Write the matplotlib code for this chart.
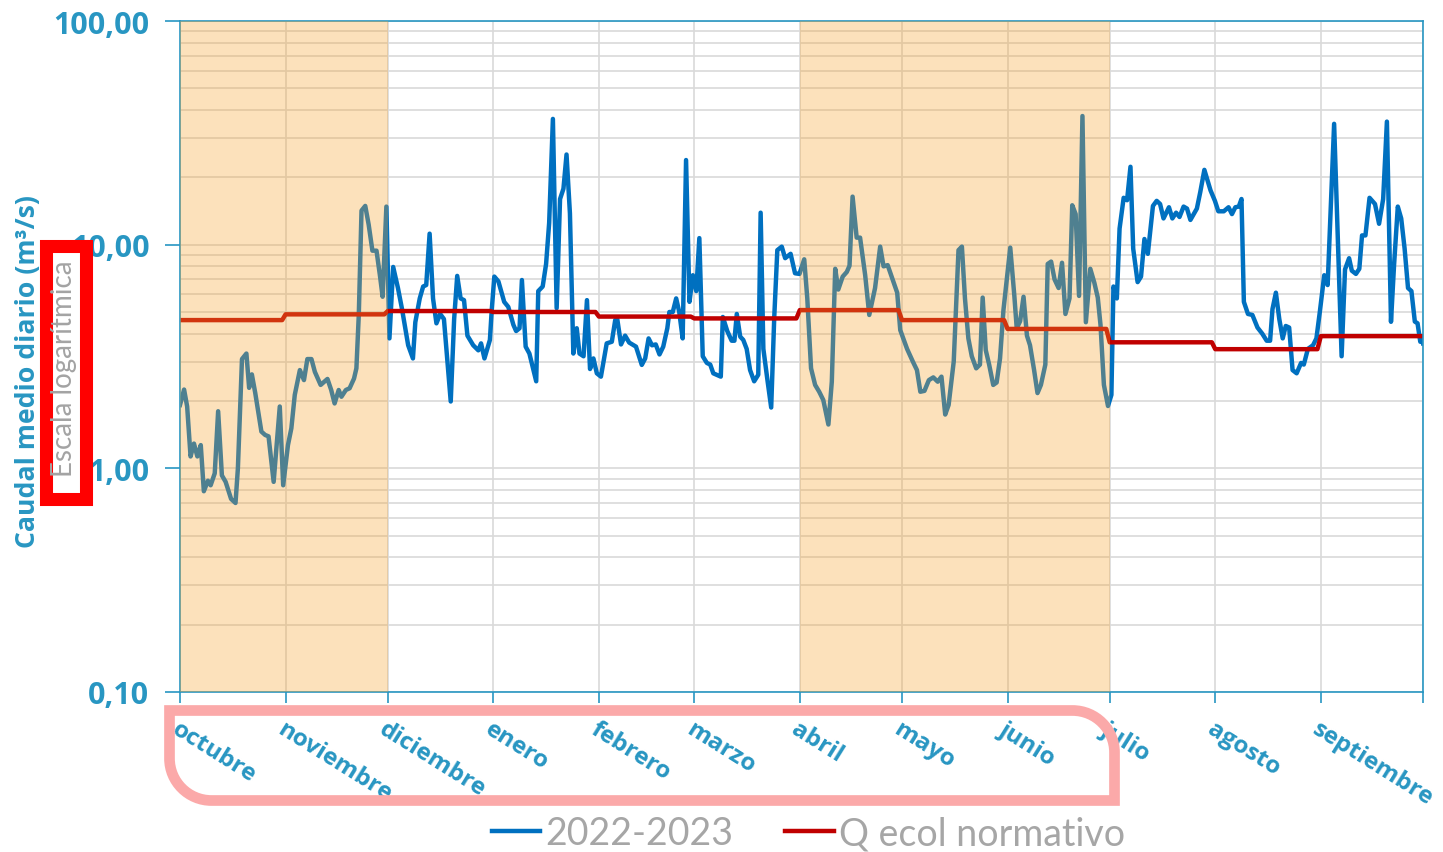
import numpy as np
import matplotlib
matplotlib.use('Agg')
import matplotlib.pyplot as plt
from matplotlib.patches import Rectangle, PathPatch
from matplotlib.path import Path
from matplotlib.transforms import Affine2D
from matplotlib.ticker import FixedLocator, NullFormatter, LogLocator

# ---------------- data ----------------
month_names = ['octubre', 'noviembre', 'diciembre', 'enero', 'febrero', 'marzo',
               'abril', 'mayo', 'junio', 'julio', 'agosto', 'septiembre']
month_days = [31, 30, 31, 31, 28, 31, 30, 31, 30, 31, 31, 30]
q_ecol = [4.60, 4.88, 5.05, 5.00, 4.77, 4.68, 5.10, 4.60, 4.20, 3.66, 3.41, 3.90]
shaded_periods = [('octubre', 'noviembre'), ('abril', 'junio')]
y_ticks = [0.1, 1, 10, 100]
y_tick_labels = ['0,10', '1,00', '10,00', '100,00']
series_labels = ['2022-2023', 'Q ecol normativo']

# daily mean flow 2022-2023 (day since 1 Oct, m3/s)
flow_day = [0, 1.2, 2.1, 3.1, 4.1, 5.1, 6.1, 7, 8.2, 9, 10.2, 11.2, 12.3, 13.4, 15, 16.3, 17,
            18.2, 19.5, 20.3, 21.1, 22.1, 23.9, 25, 26, 27.5, 29.3, 30.3, 31.7, 32.7, 33.7,
            35.2, 36.4, 37.4, 38.6, 39.6, 41.3, 43.3, 44.4, 45.4, 46.6, 47.4, 48.7, 49.8,
            51.1, 51.8, 52.5, 53.3, 54.4, 55.4, 56.5, 57.7, 58.7, 59.5, 60.6, 61.5, 62.6,
            64, 65.2, 67, 68.4, 69.1, 70.4, 71.4, 72.3, 73.3, 74.3, 75.3, 76.4, 77.5, 79.5,
            80.5, 81.4, 82.4, 83.4, 84.4, 86.1, 87.6, 88.4, 89.4, 91, 91.5, 92.3, 93.5,
            95.2, 96.4, 97.9, 98.7, 99.7, 100.4, 101.5, 102.6, 104.6, 105.2, 106.5, 107.5,
            108.4, 109.5, 110.6, 111.6, 112.6, 113.5, 114.5, 115.5, 116.5, 117.3, 118.5,
            119.5, 120.4, 121.4, 122.4, 123.6, 125.3, 126.8, 127.8, 128.4, 129.5, 130.7,
            131.9, 133.9, 135.6, 136.6, 137.6, 138.6, 139.7, 140.8, 141.9, 143.1, 143.7,
            144.7, 145.7, 146.6, 147.6, 148.6, 149.6, 150.6, 151.6, 152.5, 153.5, 154.7,
            155.7, 156.6, 158.8, 159.4, 160.7, 162, 162.8, 163.5, 164.5, 165.4, 166.4,
            167.4, 168.6, 169.8, 170.5, 171.3, 172.5, 173.6, 174.5, 175.4, 176.7, 177.7,
            179.3, 180.6, 181.9, 183.3, 184.2, 185.3, 186.5, 187.7, 188.9, 190.4, 191.4,
            192.4, 193.3, 194.6, 195.8, 196.6, 197.5, 198.7, 199.7, 201.2, 202.4, 204.1,
            205.6, 206.6, 207.8, 209.1, 210.6, 211.5, 213.5, 215.2, 216.4, 217.4, 218.6,
            219.9, 221.2, 222.5, 223.6, 224.7, 225.7, 227.2, 228.6, 229.6, 230.5, 231.5,
            232.5, 233.8, 234.9, 235.7, 236.6, 237.6, 238.8, 239.8, 240.8, 241.8, 243.8,
            245, 245.7, 246.7, 247.7, 248.7, 249.6, 250.8, 251.8, 252.8, 254.1, 254.8,
            255.8, 256.8, 258, 259, 260, 261.2, 262, 263, 264, 265, 266, 267.3, 268.5,
            269.5, 270.3, 271.3, 272.5, 273.5, 274.1, 275.1, 275.9, 277.1, 278.1, 279.1,
            279.9, 281.2, 282.2, 283.2, 284.2, 285.7, 286.8, 287.8, 288.8, 290.4, 291.4,
            292.5, 293.5, 294.7, 295.7, 296.7, 298.6, 299.6, 300.8, 302.6, 303.9, 304.9,
            306.5, 307.9, 308.9, 309.9, 310.9, 311.7, 312.4, 313.6, 314.9, 316.4, 317.8,
            319.1, 320.1, 320.8, 321.8, 322.8, 323.8, 324.7, 325.7, 326.7, 327.9, 329.2,
            330, 331.2, 332.7, 333.7, 334.7, 336, 337, 338.9, 341.1, 342.1, 343.3, 344.1,
            345.3, 346.3, 347.1, 348.1, 349.3, 350.9, 352.1, 353.3, 354.4, 355.6, 356.5,
            357.6, 358.6, 359.6, 360.6, 361.6, 362.6, 363.4, 364.2, 364.6, 365]
flow_val = [1.92, 2.25, 1.89, 1.13, 1.29, 1.13, 1.27, 0.79, 0.88, 0.84, 0.95, 1.80, 0.93, 0.87,
            0.73, 0.70, 1.0, 3.08, 3.26, 2.29, 2.63, 2.17, 1.46, 1.41, 1.39, 0.87, 1.89, 0.84,
            1.27, 1.51, 2.13, 2.75, 2.48, 3.08, 3.08, 2.70, 2.36, 2.51, 2.24, 1.95, 2.24, 2.09,
            2.24, 2.28, 2.52, 2.80, 4.85, 14.2, 14.9, 12.3, 9.4, 9.4, 7.3, 5.85, 14.8, 3.81,
            7.95, 6.4, 5.15, 3.55, 3.1, 4.5, 5.75, 6.5, 6.6, 11.2, 5.75, 4.45, 4.9, 4.65, 1.99,
            4.65, 7.25, 5.75, 5.65, 3.92, 3.55, 3.37, 3.62, 3.1, 3.75, 5.0, 7.2, 6.85, 5.55,
            5.27, 4.38, 4.11, 4.23, 6.95, 3.5, 3.26, 2.45, 6.2, 6.5, 8.2, 12.5, 36.5, 5.2,
            16.0, 17.8, 25.3, 13.8, 3.26, 4.23, 3.26, 3.17, 5.65, 2.78, 3.1, 2.66, 2.57, 3.62,
            3.68, 4.6, 4.65, 3.58, 3.92, 3.65, 3.5, 2.9, 3.1, 3.81, 3.55, 3.58, 3.23, 3.5,
            4.23, 5.0, 5.0, 5.75, 5.0, 3.81, 23.9, 5.55, 7.3, 6.2, 10.7, 3.17, 2.96, 2.91,
            2.66, 2.57, 4.75, 4.11, 3.72, 3.72, 4.9, 3.88, 3.75, 3.42, 2.75, 2.45, 2.62, 13.9,
            3.42, 2.48, 1.87, 4.75, 9.45, 9.8, 8.7, 9.1, 7.45, 7.4, 8.6, 5.75, 2.8, 2.36, 2.2,
            2.02, 1.57, 2.44, 7.8, 6.3, 7.2, 7.55, 8.05, 16.4, 10.75, 10.75, 7.3, 4.85, 6.4,
            9.8, 8.0, 8.1, 7.1, 6.1, 4.15, 3.42, 3.0, 2.75, 2.2, 2.22, 2.48, 2.55, 2.44, 2.57,
            1.74, 1.92, 3.0, 9.45, 9.8, 5.75, 3.81, 3.17, 2.8, 2.91, 5.8, 3.38, 2.91, 2.36,
            2.42, 3.1, 5.1, 9.7, 5.9, 4.23, 4.55, 5.85, 3.92, 3.55, 2.75, 2.17, 2.36, 2.91,
            8.2, 8.4, 7.0, 6.4, 8.3, 4.9, 5.75, 15.0, 13.7, 5.9, 37.6, 4.5, 7.8, 6.75, 5.8,
            4.38, 2.36, 1.9, 2.13, 6.5, 5.75, 11.8, 16.2, 15.8, 22.3, 9.6, 6.8, 7.2, 10.6,
            9.1, 14.9, 15.7, 15.2, 13.1, 14.7, 13.1, 13.9, 13.3, 14.8, 14.5, 12.9, 14.5, 17.2,
            21.6, 17.5, 15.7, 14.1, 14.1, 14.7, 13.7, 14.7, 14.8, 16.0, 5.55, 4.9, 4.85, 4.26,
            4.0, 3.72, 3.72, 5.15, 6.1, 4.65, 3.81, 4.33, 4.26, 2.75, 2.66, 2.96, 2.91, 3.42,
            3.55, 3.81, 5.0, 7.3, 6.6, 34.7, 3.17, 7.75, 8.7, 7.65, 7.4, 7.8, 11.0, 11.0, 16.2,
            15.2, 12.4, 16.0, 35.5, 4.52, 8.1, 14.8, 13.1, 9.6, 6.4, 6.2, 4.53, 4.45, 3.68,
            3.81, 3.62]

# ---------------- style ----------------
W, H = 1443, 853
TEAL = '#2896C2'
BLUE = '#0070C0'
DARKRED = '#C00000'
GRAY = '#A6A6A6'
GRID = '#D9D9D9'
SHADE = '#F7A32C'

plt.rcParams['font.family'] = ['Open Sans', 'DejaVu Sans']

fig = plt.figure(figsize=(W / 100, H / 100), dpi=100)
ax = fig.add_axes([180 / W, 1 - 693 / H, (1423 - 180) / W, (693 - 22) / H])

month_starts = np.concatenate([[0], np.cumsum(month_days)])
total_days = month_starts[-1]

# Q ecol daily step series built from monthly values
q_days = np.arange(0, total_days + 1)
q_idx = np.clip(np.searchsorted(month_starts, q_days, side='right') - 1, 0, 11)
q_vals = np.array(q_ecol)[q_idx]

l1, = ax.plot(flow_day, flow_val, color=BLUE, lw=3.2, zorder=2, solid_joinstyle='round')
l2, = ax.plot(q_days, q_vals, color=DARKRED, lw=3.2, zorder=2.5)

for a, b in shaded_periods:
    i0 = month_names.index(a)
    i1 = month_names.index(b)
    ax.axvspan(month_starts[i0], month_starts[i1 + 1], color=SHADE, alpha=0.32, lw=0, zorder=3)

ax.set_yscale('log')
ax.set_ylim(0.1, 100)
ax.set_xlim(0, total_days)
ax.yaxis.set_major_locator(FixedLocator(y_ticks))
ax.set_yticklabels(y_tick_labels)
ax.yaxis.set_minor_locator(LogLocator(base=10, subs=np.arange(2, 10)))
ax.yaxis.set_minor_formatter(NullFormatter())

ax.set_xticks(month_starts)
ax.set_xticklabels(month_names + [''])

ax.set_axisbelow(True)
ax.grid(True, axis='y', which='both', color=GRID, lw=1.2)
ax.grid(True, axis='x', which='major', color=GRID, lw=1.2)

for s in ax.spines.values():
    s.set_color(TEAL)
    s.set_linewidth(1.2)

ax.tick_params(axis='y', which='major', length=11, width=1.2, color=TEAL, pad=11,
               labelsize=22, labelcolor=TEAL)
ax.tick_params(axis='y', which='minor', length=0)
ax.tick_params(axis='x', which='major', length=8, width=1.2, color=TEAL, pad=10,
               labelsize=17.5, labelcolor=TEAL)
for lbl in ax.get_yticklabels():
    lbl.set_fontweight('bold')
for lbl in ax.get_xticklabels():
    lbl.set_fontweight('bold')
    lbl.set_rotation(-32)
    lbl.set_ha('left')
    lbl.set_va('top')
    lbl.set_rotation_mode('anchor')

# y label
fig.text(28 / W, 1 - 372 / H, 'Caudal medio diario (m³/s)', rotation=90, ha='center',
         va='center', fontsize=19.2, fontweight='bold', color=TEAL, zorder=3)

# pixel transform (y measured from top)
px = Affine2D().scale(1, -1).translate(0, H).scale(1 / W, 1 / H) + fig.transFigure

# red annotation box
rect = Rectangle((45.5, 499.5), 40, -253, transform=px, facecolor='white', edgecolor='#FF0000',
                 lw=9.4, joinstyle='miter', zorder=5)
fig.add_artist(rect)
fig.text(64 / W, 1 - 369 / H, 'Escala logarítmica', rotation=90, ha='center', va='center',
         fontsize=20, color='#A3A3A3', family=['Lato', 'DejaVu Sans'], zorder=6)

# pink rounded frame around Oct-Jun labels
L, R, T, B, r = 169.5, 1114.5, 711.5, 801.5, 42
k = 0.5523 * r
verts = [(L, T), (R - r, T), (R - r + k, T), (R, T + r - k), (R, T + r), (R, B),
         (L + r, B), (L + r - k, B), (L, B - r + k), (L, B - r), (L, T)]
codes = [Path.MOVETO, Path.LINETO, Path.CURVE4, Path.CURVE4, Path.CURVE4, Path.LINETO,
         Path.LINETO, Path.CURVE4, Path.CURVE4, Path.CURVE4, Path.CLOSEPOLY]
frame = PathPatch(Path(verts, codes), transform=px, facecolor='none', edgecolor='#FBA9A9',
                  lw=7.7, joinstyle='miter', zorder=5)
fig.add_artist(frame)

leg = ax.legend([l1, l2], series_labels, loc='center', bbox_to_anchor=(0.56, 0.022),
                bbox_transform=fig.transFigure, ncol=2, frameon=False,
                prop={'family': ['Lato', 'DejaVu Sans'], 'size': 27}, labelcolor=GRAY,
                handlelength=1.3, handletextpad=0.12, columnspacing=1.4, borderpad=0,
                borderaxespad=0)

fig.savefig('out.png', dpi=100)
